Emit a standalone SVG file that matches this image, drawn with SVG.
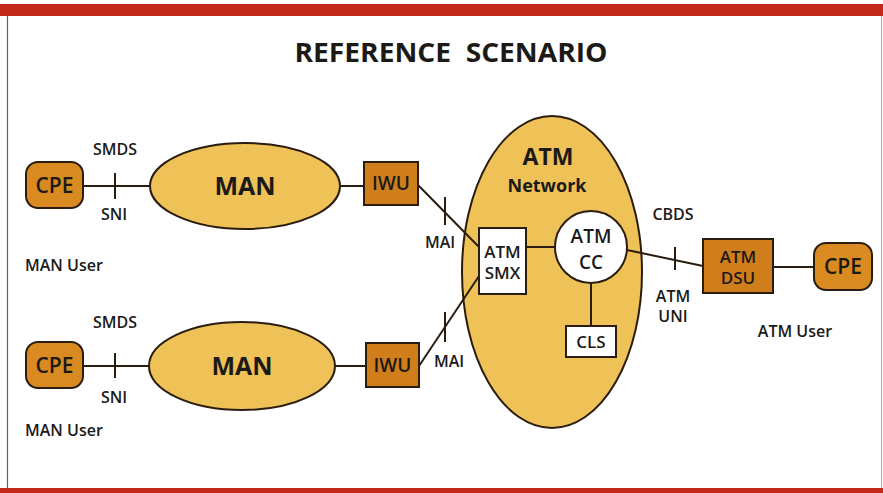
<svg xmlns="http://www.w3.org/2000/svg" width="883" height="493" viewBox="0 0 883 493">
<style>
text{font-family:"Open Sans","Noto Sans","Liberation Sans",sans-serif;fill:#1c1a17;text-anchor:middle}
.lbl{font-size:16px;font-weight:600}
.usr{font-size:16px;font-weight:600;text-anchor:start}
.big{font-size:25px;font-weight:700}
.box{font-size:19px;font-weight:600}
.cpe{fill:#d98a20;stroke:#2a1d10;stroke-width:2}
.iwu{fill:#d07d1c;stroke:#2a1d10;stroke-width:2}
.ell{fill:#efc257;stroke:#2a1d10;stroke-width:2}
.wht{fill:#ffffff;stroke:#2a1d10;stroke-width:2}
.ln{stroke:#2a1d10;stroke-width:2;fill:none}
.tk{stroke:#2a1d10;stroke-width:2}
</style>
<rect x="0" y="0" width="883" height="493" fill="#ffffff"/>
<g id="frame">
<rect x="0" y="4" width="883" height="12" fill="#c2291b"/>
<rect x="0" y="488" width="883" height="5" fill="#c2291b"/>
<line x1="7.5" y1="16" x2="7.5" y2="488" stroke="#7a5555" stroke-width="1.2"/>
<line x1="881.5" y1="16" x2="881.5" y2="488" stroke="#b9a8a8" stroke-width="1"/>
</g>
<text id="title" x="451" y="62" textLength="313" lengthAdjust="spacingAndGlyphs" style="font-size:26px;font-weight:700;white-space:pre" xml:space="preserve">REFERENCE  SCENARIO</text>

<g id="atm-network">
<ellipse class="ell" cx="552" cy="272" rx="90" ry="156"/>
<text class="big" x="548" y="165" style="font-size:23px">ATM</text>
<text x="547" y="192" style="font-size:18px;font-weight:700">Network</text>
</g>

<g id="connectors">
<line class="ln" x1="83" y1="186" x2="150" y2="186"/>
<line class="tk" x1="115" y1="173" x2="115" y2="199"/>
<line class="ln" x1="340" y1="186" x2="364" y2="186"/>
<line class="ln" x1="418" y1="185" x2="479" y2="247"/>
<line class="tk" x1="445" y1="197" x2="445" y2="225"/>
<line class="ln" x1="83" y1="366" x2="150" y2="366"/>
<line class="tk" x1="115" y1="353" x2="115" y2="378"/>
<line class="ln" x1="335" y1="366" x2="366" y2="366"/>
<line class="ln" x1="419" y1="366" x2="479" y2="276"/>
<line class="tk" x1="445" y1="312" x2="445" y2="342"/>
<line class="ln" x1="526" y1="247" x2="556" y2="247"/>
<line class="ln" x1="591" y1="283" x2="591" y2="326"/>
<line class="ln" x1="627" y1="250" x2="703" y2="266"/>
<line class="tk" x1="675" y1="247" x2="675" y2="270"/>
<line class="ln" x1="773" y1="267" x2="814" y2="267"/>
</g>

<g id="cpe1">
<rect class="cpe" x="26" y="162" width="57" height="46" rx="12"/>
<text class="box" x="54.5" y="193" style="font-size:21px">CPE</text>
</g>
<g id="man1">
<ellipse class="ell" cx="245" cy="186" rx="95" ry="43"/>
<text class="big" x="245" y="195">MAN</text>
</g>
<g id="iwu1">
<rect class="iwu" x="364" y="162" width="54" height="43"/>
<text class="box" x="391" y="190">IWU</text>
</g>
<g id="labels-top">
<text class="lbl" x="115" y="155">SMDS</text>
<text class="lbl" x="114" y="220">SNI</text>
<text class="usr" x="25" y="271">MAN User</text>
<text class="lbl" x="440" y="248">MAI</text>
</g>

<g id="cpe2">
<rect class="cpe" x="26" y="342" width="57" height="46" rx="12"/>
<text class="box" x="54.5" y="373" style="font-size:21px">CPE</text>
</g>
<g id="man2">
<ellipse class="ell" cx="242" cy="366" rx="93" ry="44"/>
<text class="big" x="242" y="375">MAN</text>
</g>
<g id="iwu2">
<rect class="iwu" x="366" y="343" width="53" height="44"/>
<text class="box" x="392.5" y="372">IWU</text>
</g>
<g id="labels-bottom">
<text class="lbl" x="115" y="328">SMDS</text>
<text class="lbl" x="114" y="403">SNI</text>
<text class="usr" x="25" y="436">MAN User</text>
<text class="lbl" x="449" y="367">MAI</text>
</g>

<g id="atm-smx">
<rect class="wht" x="479" y="228" width="47" height="66"/>
<text class="box" x="502.5" y="258" style="font-size:17px">ATM</text>
<text class="box" x="502.5" y="279" style="font-size:17px">SMX</text>
</g>
<g id="atm-cc">
<circle class="wht" cx="591" cy="247" r="36"/>
<text class="box" x="591" y="243" style="font-size:19px">ATM</text>
<text class="box" x="591" y="269" style="font-size:19px">CC</text>
</g>
<g id="cls">
<rect class="wht" x="566" y="326" width="50" height="31"/>
<text class="box" x="591" y="348" style="font-size:17px">CLS</text>
</g>

<g id="atm-dsu">
<rect class="iwu" x="703" y="239" width="70" height="54"/>
<text class="box" x="738" y="263" style="font-size:17px">ATM</text>
<text class="box" x="738" y="284" style="font-size:17px">DSU</text>
</g>
<g id="cpe3">
<rect class="cpe" x="814" y="243" width="58" height="47" rx="12"/>
<text class="box" x="843" y="274" style="font-size:21px">CPE</text>
</g>
<g id="labels-right">
<text class="lbl" x="673" y="220">CBDS</text>
<text class="lbl" x="673" y="302">ATM</text>
<text class="lbl" x="673" y="322">UNI</text>
<text class="lbl" x="795" y="337">ATM User</text>
</g>
</svg>
